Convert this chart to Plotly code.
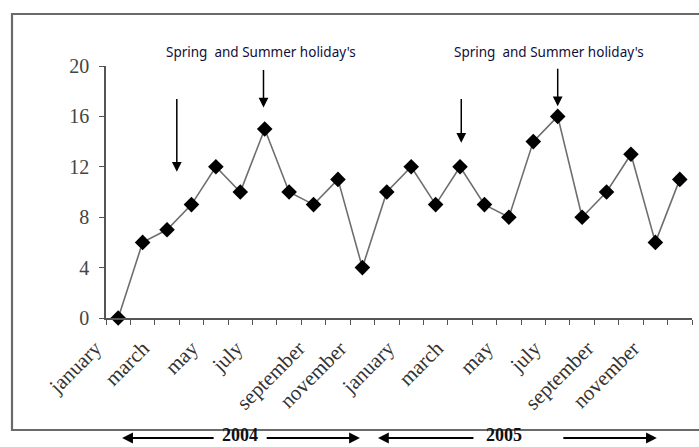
import plotly.graph_objects as go

months = ["january", "february", "march", "april", "may", "june", "july", "august",
          "september", "october", "november", "december"]
values_2004 = [0, 6, 7, 9, 12, 10, 15, 10, 9, 11, 4, 10]
values_2005 = [12, 9, 12, 9, 8, 14, 16, 8, 10, 13, 6, 11]
label_months = ["january", "march", "may", "july", "september", "november"]
# small placement tweaks of each rotated label relative to its month (month units)
label_offsets = [-0.04, -0.08, -0.08, -0.25, 0.3, 0.0,
                 -0.04, -0.04, 0.0, -0.04, 0.12, 0.0]
y_ticks = [0, 4, 8, 12, 16, 20]
note_text = "Spring  and Summer holiday's"
# arrows: (x position in month index, top value, tip value)
holiday_arrows = [(2.4, 17.5, 11.6), (5.95, 19.8, 16.7), (14.05, 17.5, 13.9), (18.0, 19.9, 16.8)]
years = ["2004", "2005"]

values = values_2004 + values_2005
x = list(range(len(values)))
lab_idx = [i for i in range(len(values)) if months[i % 12] in label_months]
lab_x = [i + o for i, o in zip(lab_idx, label_offsets)]
lab_t = [months[i % 12] for i in lab_idx]

W, H = 699, 447
L, R, T, B = 106, 7, 66, 129
pw, ph = W - L - R, H - T - B

def px(xp):
    return (xp - L) / pw

def py(yp):
    return (H - B - yp) / ph

fig = go.Figure()
fig.add_trace(go.Scatter(
    x=x, y=values, mode="lines+markers",
    line=dict(color="#6e6e6e", width=1.6),
    marker=dict(symbol="diamond", size=12, color="black"),
    cliponaxis=False, showlegend=False))

ann = []
for xa, top, tip in holiday_arrows:
    ann.append(dict(x=xa, y=tip, ax=xa, ay=top, axref="x", ayref="y", xref="x", yref="y",
                    text="", showarrow=True, arrowhead=2, arrowsize=1.3, arrowwidth=1.5,
                    arrowcolor="black"))
for xc in (5.85, 17.65):
    ann.append(dict(x=xc, y=py(52), xref="x", yref="paper", text=note_text,
                    xanchor="center", yanchor="middle", showarrow=False,
                    font=dict(family="Noto Sans", size=13.5, color="#10103a")))

# year arrows: (head x, tail x), (tail x, head x), text center — in month units
year_spans = [((0.16, 3.97), (6.02, 9.9), 4.99), ((10.64, 14.61), (18.17, 22.06), 15.8)]
yb = py(438)
yt = py(435)
for yr, span in zip(years, year_spans):
    (a1, a2), (b1, b2), c = span
    ann.append(dict(x=a1, y=yb, ax=a2, ay=0, axref="x", ayref="pixel", xref="x", yref="paper",
                    text="", showarrow=True, arrowhead=2, arrowsize=1.2, arrowwidth=1.8,
                    arrowcolor="black"))
    ann.append(dict(x=b2, y=yb, ax=b1, ay=0, axref="x", ayref="pixel", xref="x", yref="paper",
                    text="", showarrow=True, arrowhead=2, arrowsize=1.2, arrowwidth=1.8,
                    arrowcolor="black"))
    ann.append(dict(x=c, y=yt, xref="x", yref="paper", text="<b>" + yr + "</b>", showarrow=False,
                    xanchor="center", yanchor="middle",
                    font=dict(family="Liberation Serif", size=18, color="#111")))

fig.update_layout(
    width=W, height=H, margin=dict(l=L, r=R, t=T, b=B),
    paper_bgcolor="white", plot_bgcolor="white",
    annotations=ann,
    shapes=[dict(type="rect", xref="paper", yref="paper", x0=px(12), x1=px(710),
                 y0=py(430), y1=py(14), line=dict(color="#6a6a6a", width=2.2))],
    xaxis=dict(range=[-0.5, 23.5], tickmode="array", tickvals=lab_x, ticktext=lab_t,
               tickangle=-45, ticks="", showgrid=False, zeroline=False,
               ticklabelshift=-22, ticklabelstandoff=8,
               showline=True, linecolor="#555", linewidth=1.6,
               tickfont=dict(family="Liberation Serif", size=21, color="#333"),
               minor=dict(tickmode="linear", tick0=-0.5, dtick=1, ticks="outside",
                          ticklen=5, tickcolor="#555", tickwidth=1.3, showgrid=False)),
    yaxis=dict(range=[0, 20], tickvals=y_ticks, ticks="outside", ticklen=5, tickcolor="#555",
               tickwidth=1.3, showgrid=False, zeroline=False, showline=True,
               linecolor="#555", linewidth=1.6, ticklabelstandoff=6,
               tickfont=dict(family="Liberation Serif", size=20, color="#444")),
)
fig.write_html("out.html", config={"displayModeBar": False},
               post_script="document.body.style.margin='0';")
